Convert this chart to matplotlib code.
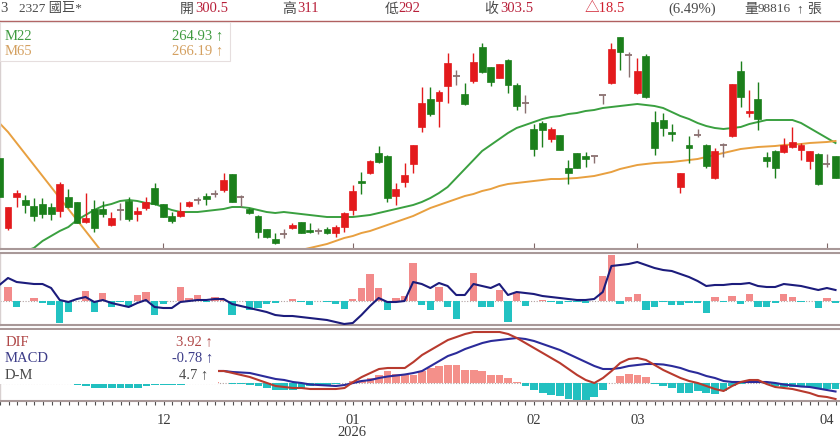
import numpy as np
import matplotlib
matplotlib.use("Agg")
import matplotlib.pyplot as plt
from matplotlib.patches import Rectangle

plt.rcParams['font.family'] = ['Liberation Serif', 'Noto Sans CJK TC', 'DejaVu Sans']

# ---------------- data ----------------
open_ = [256, 221, 236.5, 235, 232, 233, 231.5, 229.5, 236.5, 234,
         224, 230.5, 230.5, 222.5, 230, 234.5, 228, 231, 241, 233,
         227, 227, 232, 235, 237, 238, 240, 248, 236.5, 230.5,
         227, 220.5, 215.5, 218, 221, 224, 220, 219.5, 220.5, 218.5,
         221.5, 230, 244.5, 248.5, 258.5, 257, 237, 244, 253, 271.5,
         285.5, 284.5, 292, 297, 288, 294.5, 311.5, 301.5, 296, 305,
         292.5, 283.5, 270.5, 273.5, 265.5, 267.5, 251, 258.5, 257, 257,
         287.5, 293.5, 316.5, 307.5, 288.5, 307, 274, 275, 269, 241.5,
         262.5, 267.5, 262.5, 246, 262.5, 267, 299.5, 278.5, 285.5, 256.5,
         259.5, 259, 261.5, 260, 254.5, 258, 253, 257]
high = [256, 231.5, 240, 237.5, 236, 236, 233.5, 244, 240.5, 234,
        238.5, 235, 234.5, 229, 233.5, 236.5, 231.5, 236.5, 243.5, 233,
        229, 234, 234.5, 236.5, 238.5, 240, 248.5, 248, 237.5, 231,
        227.5, 220.5, 218.5, 220.5, 223.5, 224, 223.5, 221, 221.5, 222.5,
        229, 242.5, 249, 255, 262, 257.5, 243.5, 253.5, 262.5, 291.5,
        291.5, 290, 308.5, 300, 293.5, 308.5, 313.5, 301.5, 303, 305.5,
        293.5, 287.5, 273, 274.5, 271.5, 267.5, 255, 258.5, 259, 257,
        287.5, 313.5, 316.5, 309, 306, 308, 279.5, 278.5, 273, 248.5,
        267, 270.5, 263, 261, 263.5, 293, 304.5, 290, 294, 259,
        260, 266, 271.5, 263.5, 259.5, 258.5, 258, 257]
low = [236.5, 220, 231.5, 228.5, 224.5, 226, 225, 226.5, 231, 223.5,
       223.5, 219, 226.5, 222, 225, 224.5, 224.5, 230, 232.5, 226.5,
       223.5, 226.5, 231.5, 233, 232.5, 236.5, 239, 234, 231.5, 228,
       216, 216, 213, 216, 220.5, 218.5, 218.5, 218, 218, 216.5,
       219, 227.5, 238, 248, 253.5, 234, 232.5, 241.5, 248.5, 269,
       277, 271.5, 283.5, 292.5, 282.5, 293.5, 298.5, 292, 296, 288.5,
       280, 278.5, 257, 261.5, 264, 260, 243, 251, 251.5, 253.5,
       283, 293, 300, 296.5, 288, 286, 257.5, 267, 264.5, 238.5,
       253.5, 266.5, 251, 245.5, 256.5, 266.5, 281.5, 276.5, 270, 251.5,
       246, 258.5, 261, 255, 250.5, 242.5, 251.5, 246]
close = [236.5, 231.5, 238.5, 232.5, 227, 228, 228, 243, 231.5, 223.5,
         226, 221, 228, 226, 230, 225.5, 229.5, 234, 233, 226.5,
         224.5, 229.5, 234, 235, 235.5, 238, 245, 234, 236.5, 228.5,
         219, 216.5, 213.5, 218, 222.5, 218.5, 219, 219.5, 218.5, 221.5,
         228.5, 239.5, 243.5, 254.5, 254, 236, 240.5, 247.5, 262.5, 283.5,
         278, 289, 303.5, 297, 283, 304, 299, 294, 303, 292.5,
         282, 283.5, 260.5, 270, 270.5, 260, 248.5, 251, 255.5, 257,
         287.5, 310.5, 309, 307.5, 299.5, 286.5, 261, 271, 268, 248.5,
         261, 267.5, 252, 259.5, 262.5, 293, 286.5, 279.5, 275.5, 254.5,
         251, 262.5, 264, 262.5, 259.5, 243, 253, 246]
ma22 = [204, 206, 208, 209.5, 211, 214.5, 217, 219.5, 221.5, 225,
        227.5, 230, 232, 233, 234.5, 235, 234.5, 233.5, 233, 231.5,
        230, 229, 229, 229, 229.5, 230, 230.5, 231.5, 231.5, 231,
        230, 229, 228.5, 229, 228.5, 228, 227.5, 227, 226.5, 226.5,
        226.5, 226.5, 227, 227.5, 228.5, 229.5, 230.5, 231.5, 232.5, 234,
        236, 238.5, 241.5, 246, 250.5, 255, 259.5, 262.5, 265.5, 268.5,
        271, 272.5, 274, 275.5, 276.5, 277, 278, 278.5, 279.5, 280,
        281, 281.5, 282, 282.5, 283, 282.5, 282, 281, 279, 277,
        275.5, 273.5, 272, 271, 270.5, 271, 271.5, 273, 274, 275,
        275, 275, 275, 273.5, 271, 268.5, 266, 263.5]
ma65 = [273.5, 269, 263.5, 258, 252.5, 247, 241.5, 236, 230.5, 225,
        219.5, 214, 208.5, 203, 200, 198, 196, 195, 194, 193.5,
        193, 193, 193.5, 194, 195, 196, 197.5, 199, 200.5, 202,
        203.5, 205, 206.5, 207.5, 208.5, 210, 211, 212, 213, 214.5,
        216, 217, 218.5, 219.5, 221, 222.5, 224, 225.5, 227, 229,
        231, 232.5, 234, 235.5, 237, 238, 239.5, 240.5, 242, 243,
        243.5, 244, 244.5, 245, 245.5, 245.5, 245.75, 246, 246.5, 247,
        248, 249, 250.5, 251.5, 252.5, 253, 253.5, 253.75, 254, 254.5,
        255, 255.5, 256.5, 257.5, 258.5, 259.5, 260.5, 261, 261.5, 261.75,
        262, 262.5, 262.75, 263, 263.5, 263.75, 264, 264.5]
osc_bar = [0, 13.7, -6.3, 0.5, 2.7, -2.3, -4, -22.3, -10.7, 0.5,
           10.3, -10.7, 8.3, -6.3, -1, -6.3, 6, 8.7, -14, -3,
           0.5, 13.7, 2.7, 6, -1, 3.7, 1, -14, 0.5, -9,
           -7.3, -3, -1.7, 0.5, 1.7, -1.3, -4, 0.5, -1.3, -3,
           -8.3, 2, 12.7, 27, 12.7, -9, 2.7, 5, 37.7, -4,
           -9, 13.7, -6.3, -18.3, 0.5, 27.7, -6.3, -5.7, 11, -20.7,
           7.7, -5, 0.5, 1, -1, -3, -1, -1, -2, 0.5,
           25, 46, -3, 4.3, 7, -9, -6.3, -1, -4, -4,
           -1.7, -2.3, -11.7, 4.3, -1, 5, -3, 6.7, -5.7, -6.3,
           -1.7, 6.7, 4.3, -1, 0.5, -7.3, 2.7, -2.3]
osc_line = [16, 23, 19, 18, 17, 17, 13, 1, -1, 2,
            4, -1, 1, -2, -4, -6, -2, 1, -6, -7,
            -7, -1, 0, 1, 1, 2, 2, -3, -5, -7,
            -9, -11, -14, -15, -15, -16, -17, -18, -19, -21,
            -23, -22, -14, -5, 3, -1, -1, 0, 19, 17,
            13, 18, 15, 6, 6, 17, 15, 13, 17, 6,
            9, 8, 7, 5, 4, 3, 2, 1, 1, 2,
            9, 35, 36, 37, 39, 36, 33, 31, 30, 27,
            24, 20, 15, 16, 16, 17, 17, 18, 15, 14,
            14, 17, 16, 15, 13, 11, 13, 11]
nan = float('nan')
dif = [nan] * 25 + [
    6, 6, 5, 4, 3,
    1.5, 0, -1.5, -2, -2.5, -2.5, -3, -3, -3, -3,
    -2.5, 0.5, 3, 5, 7, 7.5, 7.5, 7.5, 10.5, 14,
    16.5, 19, 21.5, 23, 24.5, 25.5, 25.5, 25.5, 25.5, 24.5,
    22.5, 20, 17.5, 15, 12.5, 10, 7, 4, 1.5, 0,
    2.5, 6, 10, 12, 12.5, 11.5, 9, 6.5, 4.5, 2.5,
    1, 0, -1.5, -3, -4, -1.5, 0.5, 1.5, 1.5, -0.5,
    -2, -2.5, -3, -4, -5, -6.5, -7, -8]
macd = [nan] * 25 + [
    6, 6, 5.5, 5.25, 5,
    4, 3, 2, 1.5, 0.5, 0, -0.75, -1, -1.25, -1.5,
    -1, 0, 1, 1.5, 2.5, 3.25, 3.75, 4.25, 5, 6,
    8.5, 11, 13.5, 15, 17, 18.5, 20, 21, 21.5, 22,
    22.5, 22, 21, 19.5, 18, 16.5, 14.5, 12.5, 10.5, 8.5,
    7, 7, 7.5, 8.5, 9, 9.5, 9.5, 9.25, 8.5, 7.5,
    6, 5, 3.5, 2.5, 1, 0.5, 0.5, 0.5, 0.5, 0.5,
    0, -0.75, -1.25, -1.75, -2, -2.75, -3.5, -4.25]
dm = [0, 0, 0, 0, 0, 0, 0, 0, 0, -1,
      -1.5, -2.5, -2.5, -2.5, -2.5, -2.5, -2.5, -1.5, -1, -1,
      -1, -1, 0.5, 0.5, 0.5, 0.3, 0.2, -0.3, -0.7, -1.2,
      -1.7, -2.5, -3.3, -3.7, -3.3, -2.5, -1.7, -1.2, -1, -0.7,
      -0.2, 0.8, 1.7, 2.5, 4.2, 6.2, 4.5, 4.2, 4.2, 5.8,
      7.5, 8.3, 9.2, 9.2, 6.7, 6.7, 5.8, 4.2, 4.2, 2.5,
      0.3, -1.3, -3.3, -5, -5.8, -6.7, -7.8, -8.3, -8.3, -7.2,
      -3.3, 0.2, 3.3, 4.5, 4.2, 2.8, -0.5, -1.7, -2.5, -5,
      -5, -4.2, -5, -5.5, -3.8, -1.7, -0.3, 0.3, 0.2, -0.5,
      -1.5, -2, -2, -2, -2.2, -2.5, -2.8, -3]
month_pos = [20, 42, 63, 75, 97]
month_labels = ['12', '01', '02', '03', '04']
year_label = '2026'

# ---------------- figure ----------------
W, H = 840, 440
fig = plt.figure(figsize=(W / 100, H / 100), dpi=100)
fig.patch.set_facecolor('white')


def ax_at(y0, y1):
    return fig.add_axes([0, 1 - y1 / H, 1, (y1 - y0) / H])


def px(x, y):
    return x / W, 1 - y / H


ax1 = ax_at(21, 249)
ax2 = ax_at(253, 325)
ax3 = ax_at(329, 401)
XL = (1.07, 98.52)
BORDER = '#a89898'
for ax in (ax1, ax2, ax3):
    ax.set_xlim(*XL)
    ax.set_yticks([])
    ax.spines['right'].set_visible(False)
    ax.spines['left'].set_color('#d8d0d0')
    ax.spines['left'].set_linewidth(1.0)
    ax.spines['bottom'].set_color(BORDER)
    ax.spines['bottom'].set_linewidth(1.5)
    ax.spines['top'].set_color(BORDER)
    ax.spines['top'].set_linewidth(1.5)
ax1.spines['top'].set_color('#b06060')
ax1.spines['top'].set_linewidth(1.0)

o = np.array(open_, float)
h = np.array(high, float)
l = np.array(low, float)
c = np.array(close, float)
idx = np.arange(1, len(c) + 1)

RED, GRN, DOJ = '#e31a1c', '#1b7f1b', '#8a7070'
up = c > o
dn = c < o
dj = c == o
cols = np.where(up, RED, np.where(dn, GRN, DOJ))

ax1.set_ylim(210.5, 324.5)
ax1.plot(idx, ma22, color='#3aa040', lw=1.4, zorder=2)
ax1.plot(idx, ma65, color='#e8a040', lw=1.4, zorder=2)
ax1.vlines(idx, l, h, colors=cols, lw=1.0, zorder=3)
m = ~dj
ax1.bar(idx[m], np.abs(c - o)[m], bottom=np.minimum(o, c)[m], width=0.8,
        color=cols[m], edgecolor=cols[m], lw=0.5, zorder=4)
ax1.hlines(o[dj], idx[dj] - 0.4, idx[dj] + 0.4, colors=DOJ, lw=1.3, zorder=4)
ax1.set_xticks(month_pos)
ax1.tick_params(axis='x', direction='in', length=4, color='#806868',
                labelbottom=False)

# second panel
ob = np.array(osc_bar)
ax2.set_ylim(-24, 48)
ax2.axhline(0, color='#b0a0a0', lw=0.8, ls=(0, (1, 1.5)), zorder=1)
ax2.bar(idx, ob, width=0.85, color=np.where(ob >= 0, '#f28a8a', '#22c2c2'),
        zorder=2)
ax2.plot(idx, osc_line, color='#1c1c7c', lw=1.5, zorder=3)
ax2.set_xticks([])

# MACD panel
d = np.array(dm)
ax3.set_ylim(-9, 27)
ax3.axhline(0, color='#b0a0a0', lw=0.8, ls=(0, (1, 1.5)), zorder=1)
ax3.bar(idx, d, width=0.9, color=np.where(d >= 0, '#f4908a', '#22c0c0'),
        zorder=2)
ax3.plot(idx, macd, color='#2b2b9a', lw=1.5, zorder=3)
ax3.plot(idx, dif, color='#b83a2e', lw=1.5, zorder=4)
ax3.set_xticks(month_pos)
ax3.set_xticklabels(month_labels)
ax3.set_xticks(idx, minor=True)
ax3.tick_params(axis='x', which='both', direction='out', length=3,
                width=0.8, color='#505050', labelsize=10.5,
                labelcolor='#3a3a3a', pad=6)

# legend boxes
fig.add_artist(Rectangle(px(0, 61), 230 / W, 39 / H, transform=fig.transFigure,
                         facecolor='white', edgecolor='#e6dede', lw=0.8,
                         zorder=10))
fig.add_artist(Rectangle(px(0, 384), 218 / W, 54 / H, transform=fig.transFigure,
                         facecolor='white', edgecolor='none', zorder=10))


def T(x, y, s, color, size=10.5, ha='left'):
    fig.text(*px(x, y), s, color=color, fontsize=size, ha=ha, va='center',
             zorder=11)


# header
LBL, VAL = '#4a4a4a', '#b8203a'
T(0, 9, '3', LBL)
T(19, 9, '2327 國巨*', LBL, size=9.5)
T(180, 9, '開', LBL, size=10)
T(195, 9, '300.5', VAL)
T(282, 9, '高', LBL, size=10)
T(297, 9, '311', VAL)
T(385, 9, '低', LBL, size=10)
T(398, 9, '292', VAL)
T(484, 9, '收', LBL, size=10)
T(500, 9, '303.5', VAL)
T(585, 9, '△18.5', '#d02030')
T(668, 9, '(6.49%)', LBL)
T(744, 9, '量', LBL, size=10)
T(758, 9, '98816', LBL, size=9.5)
T(796, 9, '↑', LBL, size=9.5)
T(807, 9, '張', LBL, size=10)

# MA legend
T(5, 36, 'M22', '#3f9a3f')
T(198, 36, '264.93 ↑', '#3f9a3f', ha='center')
T(5, 51, 'M65', '#d4a060')
T(198, 51, '266.19 ↑', '#d4a060', ha='center')

# MACD legend
T(6, 342, 'DIF', '#b04848')
T(194, 342, '3.92 ↑', '#b04848', ha='center')
T(5, 358, 'MACD', '#3c3c88')
T(193, 358, '-0.78 ↑', '#3c3c88', ha='center')
T(5, 375, 'D-M', '#4a4a4a')
T(194, 375, '4.7 ↑', '#4a4a4a', ha='center')

# year under January
T(352, 432, year_label, '#3a3a3a', ha='center')

fig.savefig('out.png', dpi=100, facecolor='white')
